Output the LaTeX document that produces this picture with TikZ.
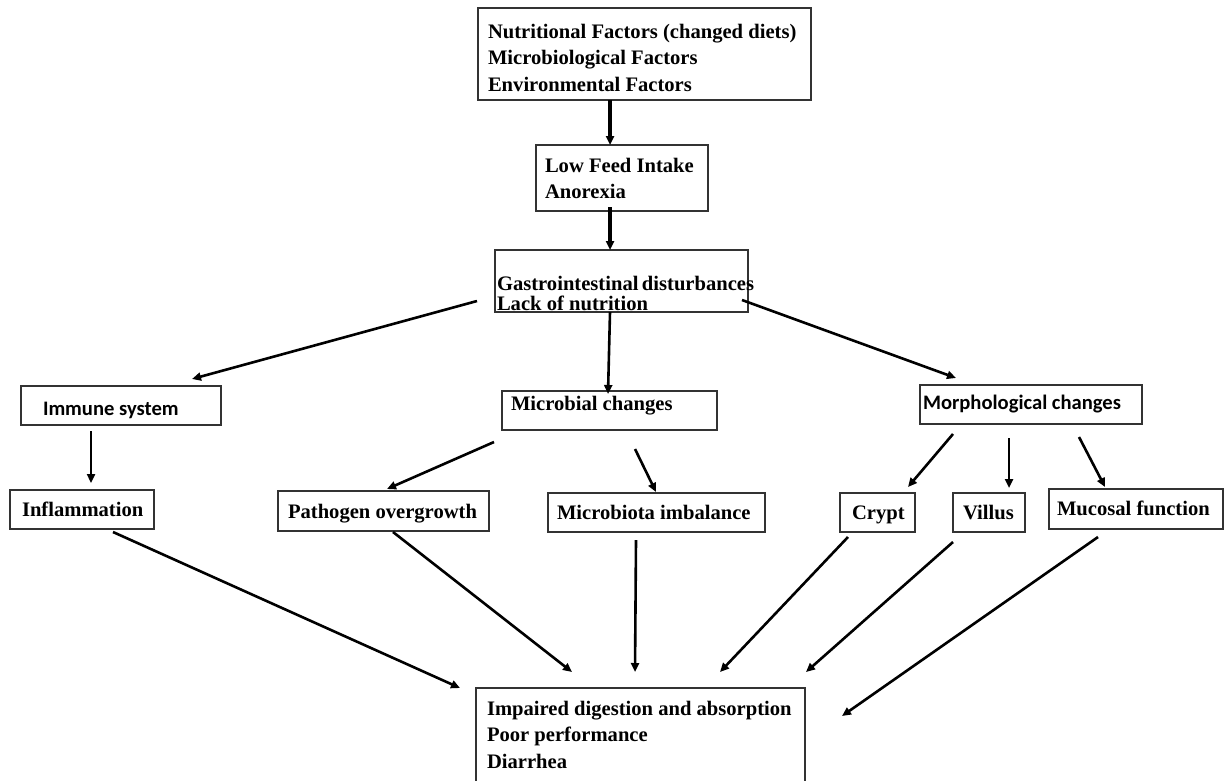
\documentclass[tikz,border=0pt]{standalone}
\usepackage{fontspec}
\setmainfont{Liberation Serif}
\newfontfamily\calibri{Carlito}
\usetikzlibrary{arrows.meta}
\hyphenpenalty=10000

\begin{document}
\begin{tikzpicture}[x=1pt, y=-1pt,
  box/.style={draw=black!80, line width=1.2pt, anchor=north west, outer sep=0pt,
    inner ysep=0pt, align=flush left, font=\fontsize{20.6}{26.5}\selectfont\bfseries},
  sansbox/.style={box, font=\fontsize{20.6}{26.5}\selectfont\calibri\bfseries},
  arr/.style={-{Triangle[length=9pt,width=8pt]}, line width=2.6pt},
  thickarr/.style={arr, line width=3.2pt}]
  \useasboundingbox (0,0) rectangle (1225,780);
  \clip (0,0) rectangle (1225,780);
  % Causes
  \node[box, inner xsep=10pt, text width=313pt, text height=30pt, text depth=62pt] (factors) at (478,8)
    {Nutritional Factors (changed diets)\\Microbiological Factors\\Environmental Factors};
  \node[box, inner xsep=9pt, text width=154pt, text height=27pt, text depth=39pt] (intake) at (536,145)
    {Low Feed Intake\\Anorexia};
  \node[box, inner xsep=2pt, text width=249pt, text height=40pt, text depth=22pt,
    font=\fontsize{20.6}{20}\selectfont\bfseries] (gastro) at (495,250)
    {Gastrointestinal~disturbances\\Lack of nutrition};
  % Second level
  \node[sansbox, inner xsep=22pt, text width=156pt, text height=29pt, text depth=10pt] (immune) at (21,386) {Immune system};
  \node[box, inner xsep=9pt, text width=197pt, text height=19pt, text depth=20pt] (microbial) at (502,391) {Microbial changes};
  \node[sansbox, inner xsep=3pt, text width=216pt, text height=24pt, text depth=15pt] (morph) at (920,385) {Morphological changes};
  % Third level
  \node[box, inner xsep=12pt, text width=120pt, text height=26pt, text depth=13pt] (inflam) at (10,490) {Inflammation};
  \node[box, inner xsep=10pt, text width=191pt, text height=27pt, text depth=13pt] (pathogen) at (278,491) {Pathogen overgrowth};
  \node[box, inner xsep=9pt, text width=199pt, text height=26pt, text depth=13pt] (microbiota) at (548,493) {Microbiota imbalance};
  \node[box, inner xsep=12pt, text width=51pt, text height=26pt, text depth=13pt] (crypt) at (840,493) {Crypt};
  \node[box, inner xsep=10pt, text width=52pt, text height=26pt, text depth=13pt] (villus) at (953,493) {Villus};
  \node[box, inner xsep=8pt, text width=158pt, text height=26pt, text depth=14pt] (mucosal) at (1049,489) {Mucosal function};
  % Outcome
  \node[box, inner xsep=11pt, text width=307pt, text height=27pt, text depth=94pt] (impaired) at (476,688)
    {Impaired digestion and absorption\\Poor performance\\Diarrhea};
  % Arrows
  \draw[thickarr] ([shift={(-34.5,0)}]factors.south) -- ([shift={(-12,0)}]intake.north);
  \draw[thickarr] ([shift={(-12,-4)}]intake.south) -- ([shift={(-11.5,0)}]gastro.north);
  \draw[arr] ([shift={(-18,20)}]gastro.west) -- ([shift={(71,-7)}]immune.north);
  \draw[arr] ([shift={(-11.5,0)}]gastro.south) -- ([shift={(-1.5,3)}]microbial.north);
  \draw[arr] ([shift={(-6,19)}]gastro.east) -- ([shift={(-75,-7)}]morph.north);
  \draw[arr] ([shift={(-30,6)}]immune.south) -- ([shift={(9,-7)}]inflam.north);
  \draw[arr] ([shift={(-115.5,12)}]microbial.south) -- ([shift={(3.5,-2)}]pathogen.north);
  \draw[arr] ([shift={(25.5,19)}]microbial.south) -- ([shift={(-0.5,-1)}]microbiota.north);
  \draw[arr] ([shift={(-78,10)}]morph.south) -- ([shift={(30.5,-6)}]crypt.north);
  \draw[arr] ([shift={(-22,14)}]morph.south) -- ([shift={(20,-5)}]villus.north);
  \draw[arr] ([shift={(48,13)}]morph.south) -- ([shift={(-31,-2)}]mucosal.north);
  \draw[arr] ([shift={(31,3)}]inflam.south) -- ([shift={(-16,0)}]impaired.north west);
  \draw[arr] ([shift={(9.5,1)}]pathogen.south) -- ([shift={(-68.5,-16)}]impaired.north);
  \draw[arr] ([shift={(-20.5,8)}]microbiota.south) -- ([shift={(-5.5,-16)}]impaired.north);
  \draw[arr] ([shift={(-29.5,5)}]crypt.south) -- ([shift={(79.5,-16)}]impaired.north);
  \draw[arr] ([shift={(-36,10)}]villus.south) -- ([shift={(165.5,-16)}]impaired.north);
  \draw[arr] ([shift={(-38,8)}]mucosal.south) -- ([shift={(37,28)}]impaired.north east);
\end{tikzpicture}
\end{document}
